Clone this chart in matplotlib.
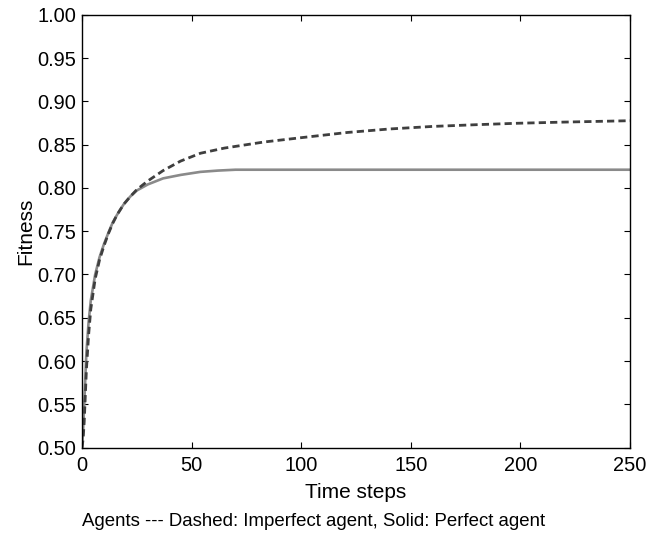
import matplotlib
matplotlib.use("Agg")
import matplotlib.pyplot as plt
import numpy as np

plt.rcParams['font.family'] = ['Liberation Sans', 'DejaVu Sans']

# Perfect agent (solid)
steps_perfect = [0, 0.5, 1, 2, 3, 4, 6, 8, 10, 12, 14, 16, 19, 22, 25, 30, 37, 45, 54, 62, 70, 100, 150, 200, 250]
fit_perfect = [0.50, 0.52, 0.55, 0.61, 0.645, 0.67, 0.700, 0.720, 0.735, 0.748, 0.760, 0.769, 0.781, 0.790, 0.797, 0.804, 0.811, 0.815, 0.8185, 0.820, 0.821, 0.821, 0.821, 0.821, 0.821]

# Imperfect agent (dashed)
steps_imperfect = [0, 0.5, 1, 2, 3, 4, 6, 8, 10, 12, 14, 16, 19, 22, 25, 30, 37, 45, 54, 65, 83, 100, 121, 140, 160, 180, 198, 220, 250]
fit_imperfect = [0.50, 0.51, 0.53, 0.59, 0.63, 0.66, 0.695, 0.717, 0.733, 0.747, 0.759, 0.769, 0.781, 0.790, 0.798, 0.808, 0.820, 0.831, 0.840, 0.846, 0.853, 0.858, 0.864, 0.868, 0.871, 0.873, 0.8746, 0.876, 0.8776]

fig = plt.figure(figsize=(6.53, 5.35), dpi=100)
ax = fig.add_axes([0.1256, 0.1632, 0.8392, 0.8093])

ax.plot(steps_perfect, fit_perfect, color='#8a8a8a', lw=1.9, solid_capstyle='butt')
ax.plot(steps_imperfect, fit_imperfect, color='#3f3f3f', lw=2.0, linestyle=(0, (2.6, 1.5)))

ax.set_xlim(0, 250)
ax.set_ylim(0.5, 1.0)
ax.set_xticks([0, 50, 100, 150, 200, 250])
yt = np.arange(0.5, 1.0001, 0.05)
ax.set_yticks(yt)
ax.set_yticklabels([f"{v:.2f}" for v in yt])
ax.tick_params(direction='in', length=4, width=0.8, labelsize=14.4, top=True, right=True)
ax.tick_params(axis='x', pad=6)
ax.tick_params(axis='y', pad=4)
for s in ax.spines.values():
    s.set_linewidth(1.0)

ax.set_xlabel('Time steps', fontsize=15, labelpad=6)
ax.set_ylabel('Fitness', fontsize=15, labelpad=2)
fig.text(82/653, 1 - 522/535, 'Agents --- Dashed: Imperfect agent, Solid: Perfect agent',
         fontsize=13.4, ha='left', va='center')

fig.savefig('out.png', dpi=100)
